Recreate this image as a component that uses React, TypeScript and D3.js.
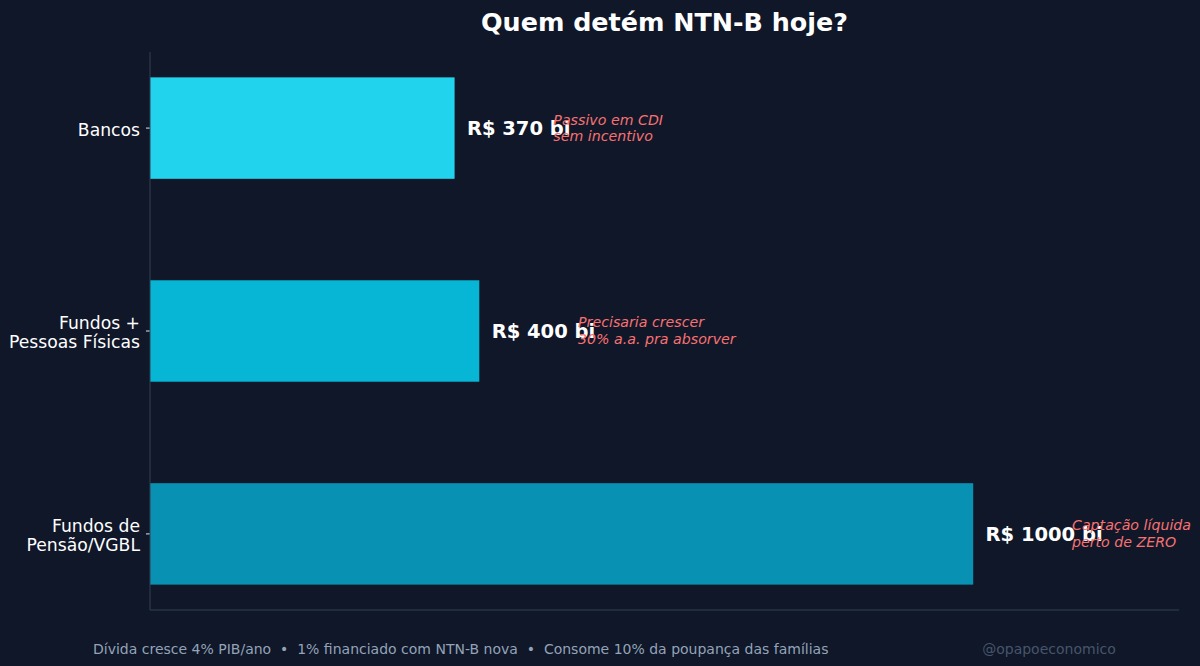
import * as d3 from "d3";

const categories = ["Bancos", "Fundos +\nPessoas Físicas", "Fundos de\nPensão/VGBL"];
const values = [370, 400, 1000];
const valueLabels = ["R$ 370 bi", "R$ 400 bi", "R$ 1000 bi"];
const notes = [
  ["Passivo em CDI", "sem incentivo"],
  ["Precisaria crescer", "30% a.a. pra absorver"],
  ["Captação líquida", "perto de ZERO"],
];
const colors = ["#22d3ee", "#06b6d4", "#0891b2"];
const footer = "Dívida cresce 4% PIB/ano  •  1% financiado com NTN-B nova  •  Consome 10% da poupança das famílias";
const handle = "@opapoeconomico";

const W = 1200;
const H = 666;
const font = "DejaVu Sans, sans-serif";

export default function App() {
  const left = 150;
  const right = 1179;
  const top = 52;
  const bottom = 610;
  const x = d3.scaleLinear().domain([0, 1250]).range([left, right]);
  // index positions, matplotlib style: bars 0.5 wide, 0.05 margin
  const y = d3.scaleLinear().domain([-0.375, 2.375]).range([top, bottom]);
  const bh = y(0.5) - y(0);

  return (
    <svg width={W} height={H} style={{ position: "absolute", left: 0, top: 0, background: "#0f1729" }}>
      <rect width={W} height={H} fill="#0f1729" />
      <text x={(left + right) / 2} y={31} textAnchor="middle" fill="#ffffff"
        fontFamily={font} fontWeight="bold" fontSize={25.4}>Quem detém NTN-B hoje?</text>

      {values.map((v, i) => (
        <g key={i}>
          <rect x={x(0)} y={y(i) - bh / 2} width={x(v) - x(0)} height={bh} fill={colors[i]} />
          <text x={x(v + 15)} y={y(i)} dy="0.35em" fill="#ffffff" fontFamily={font}
            fontWeight="bold" fontSize={19.5}>{valueLabels[i]}</text>
          <text x={x(v + 120)} y={y(i)} fill="#f87171" fontFamily={font}
            fontStyle="italic" fontSize={14.2}>
            <tspan x={x(v + 120)} dy="-0.25em">{notes[i][0]}</tspan>
            <tspan x={x(v + 120)} dy="1.15em">{notes[i][1]}</tspan>
          </text>
          <line x1={left - 4} x2={left} y1={y(i)} y2={y(i)} stroke="#e2e8f0" strokeWidth={1} />
          <text x={left - 10} y={y(i) + 1.5} textAnchor="end" fill="#ffffff" fontFamily={font} fontSize={17.2}>
            {categories[i].split("\n").map((l, j, arr) => (
              <tspan key={j} x={left - 10}
                dy={j === 0 ? `${0.35 - (arr.length - 1) * 0.575}em` : "1.15em"}>{l}</tspan>
            ))}
          </text>
        </g>
      ))}

      <line x1={left} x2={left} y1={top} y2={bottom} stroke="#334155" strokeWidth={1} />
      <line x1={left} x2={right} y1={bottom} y2={bottom} stroke="#334155" strokeWidth={1} />

      <text x={93} y={654} fill="#94a3b8" fontFamily={font} fontSize={14} style={{ whiteSpace: "pre" }}>{footer}</text>
      <text x={1049} y={654} textAnchor="middle" fill="#475569" fontFamily={font} fontSize={14}>{handle}</text>
    </svg>
  );
}
